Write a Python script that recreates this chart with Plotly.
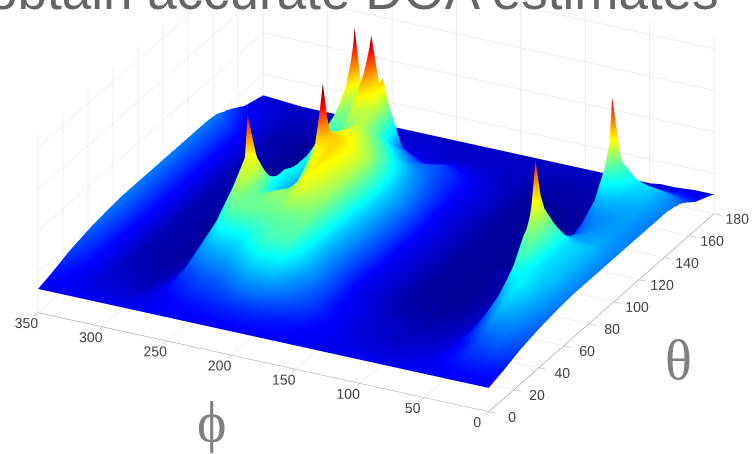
import numpy as np
import plotly.graph_objects as go

theta = [0,12,25,40,55,68,78,80,82,87,92,95,97,101,103,107,115,125,135,143,147,149,150,152,156,165,180]
phi = [0,15,30,42,49,52,56,60,70,90,120,150,180,195,212,222,227,230,236,240,245,250,253,258,265,268,275,290,320,350]
height_by_phi = [
 [11,14,18,21,23,24,24,24,24,24,24,24,24,24,24,24,24,24,24,24,23,23,22,22,20,14,8],
 [11,15,22,27,29,30,30,30,30,30,30,30,30,29,28,28,27,27,28,30,30,30,30,29,25,16,8],
 [11,15,20,30,36,34,34,34,34,34,34,33,32,29,28,27,26,26,29,33,35,35,34,31,26,15,7],
 [11,13,14,20,30,44,46,46,47,46,46,44,40,32,30,26,22,24,30,40,44,46,40,32,24,12,7],
 [11,12,12,14,18,28,46,48,50,58,56,52,44,28,24,20,16,20,28,44,58,87,50,26,16,9,6],
 [11,11,10,10,12,18,32,36,42,54,68,60,40,22,18,13,9,11,14,20,26,36,24,16,11,8,6],
 [11,10,9,8,8,10,14,16,20,34,56,83,42,14,11,8,6,6,7,9,12,14,10,8,7,6,6],
 [11,10,8,7,6,7,9,10,11,16,24,40,18,9,7,5,4,4,4,5,6,7,6,5,5,5,6],
 [11,9,7,5,4,3,3,3,3,4,5,6,5,3,3,2,2,2,2,2,2,3,3,3,3,4,6],
 [11,8,6,4,2,1,1,1,1,1,1,1,1,1,1,1,1,1,1,1,1,1,1,1,2,3,6],
 [11,9,7,6,3,2,2,2,2,2,2,2,2,2,2,2,2,2,2,2,2,2,2,2,3,4,6],
 [11,12,14,12,10,11,11,11,11,11,11,11,11,11,11,11,10,10,10,10,9,9,9,8,7,6,6],
 [11,15,24,30,30,31,32,32,32,33,33,33,33,33,33,32,30,26,22,20,18,17,16,14,11,7,6],
 [11,16,28,42,46,50,52,52,52,54,54,54,54,54,52,50,44,36,26,20,16,14,13,11,9,7,6],
 [11,16,28,42,46,58,62,62,62,63,64,64,64,63,62,60,56,48,38,28,24,22,20,15,11,8,6],
 [11,15,24,38,46,50,52,52,54,58,60,62,64,66,64,62,58,54,52,52,50,48,38,22,12,8,6],
 [11,15,23,36,46,50,46,46,48,52,58,62,66,98,68,60,54,52,54,60,64,66,50,26,13,8,6],
 [11,15,22,34,46,50,44,42,42,44,48,50,54,74,54,46,46,48,54,60,62,62,58,34,18,9,6],
 [11,14,21,32,46,48,38,34,28,24,22,22,22,22,24,28,34,46,58,72,84,93,76,42,20,9,6],
 [11,14,20,32,46,46,36,30,24,20,18,18,18,20,22,24,30,40,48,50,52,56,48,30,17,9,6],
 [11,14,20,31,46,46,36,32,26,24,24,25,26,28,30,32,34,38,46,52,56,60,58,36,18,9,6],
 [11,13,19,30,46,48,44,42,38,34,33,34,34,35,35,36,36,40,48,60,74,84,95,50,20,9,6],
 [11,13,18,30,46,52,54,50,46,40,38,38,38,36,35,34,34,38,44,48,52,56,54,32,15,8,6],
 [11,12,17,28,42,56,58,58,54,42,34,30,26,20,16,14,12,12,12,14,14,16,14,10,8,7,6],
 [11,11,16,24,32,45,58,85,50,22,12,8,6,5,5,4,4,3,3,3,3,3,3,3,3,4,6],
 [11,11,14,18,22,24,28,38,22,10,6,5,4,3,3,3,2,2,2,2,2,2,2,2,3,4,6],
 [11,10,9,8,6,7,8,8,7,5,3,3,2,2,2,1,1,1,1,1,1,1,1,1,2,3,6],
 [11,8,5,3,2,2,1,1,1,1,1,1,1,1,1,1,1,1,1,1,1,1,1,1,1,3,6],
 [11,9,7,5,4,4,4,4,4,4,4,4,4,4,4,4,4,4,4,4,4,4,4,4,4,5,6],
 [11,14,18,21,23,24,24,24,24,24,24,24,24,24,24,24,24,24,24,23,21,20,20,19,17,12,8],
]
z_grid_values = [22,50,78,106]
jet = [[0,'#00008f'],[0.125,'#0000ff'],[0.375,'#00ffff'],[0.625,'#ffff00'],[0.875,'#ff0000'],[1,'#800000']]
fig = go.Figure(go.Surface(x=phi,y=theta,z=np.array(height_by_phi).T.tolist(),colorscale=jet,cmin=0,cmax=96,showscale=False,hoverinfo='skip',
    lighting=dict(ambient=1,diffuse=0,specular=0,fresnel=0,roughness=1),contours=dict(x=dict(highlight=False),y=dict(highlight=False),z=dict(highlight=False))))
ax=dict(showbackground=False,gridcolor='#ebebeb',showline=True,linecolor='#777',ticks='outside',ticklen=8,tickcolor='#888',tickfont=dict(family='Liberation Sans',size=13,color='#444'),title='',zeroline=False,showspikes=False,tickangle=0)
fig.update_layout(width=752,height=454,margin=dict(l=0,r=0,t=0,b=0),paper_bgcolor='white',
  scene=dict(domain=dict(x=[0,1],y=[0,1]),
    xaxis=dict(ax,range=[350,0],tickvals=[0,50,100,150,200,250,300,350]),
    yaxis=dict(ax,range=[0,180],tickvals=list(range(0,181,20))),
    zaxis=dict(ax,range=[-5,115],tickvals=z_grid_values,showticklabels=False,ticks='',showline=False),
    aspectmode='manual',aspectratio=dict(x=2.22,y=2.22,z=0.875),
    camera=dict(eye=dict(x=1.215,y=-2.43,z=1.07),center=dict(x=0,y=0,z=-0.26),projection=dict(type='orthographic'))),
  annotations=[
   dict(text='obtain accurate DOA estimates',x=0.4706,y=0.951,yanchor='bottom',xref='paper',yref='paper',showarrow=False,font=dict(family='Liberation Sans',size=53,color='#666')),
   dict(text='θ',x=0.9226,y=0.134,yanchor='bottom',xref='paper',yref='paper',showarrow=False,font=dict(family='Liberation Serif',size=56,color='#808080')),
   dict(text='ϕ',x=0.2596,y=-0.0026,yanchor='bottom',xref='paper',yref='paper',showarrow=False,font=dict(family='Liberation Serif',size=56,color='#808080')),
  ])
fig.write_html('out.html',config={'displayModeBar':False},post_script="document.body.style.margin='0';document.body.style.overflow='hidden';")
